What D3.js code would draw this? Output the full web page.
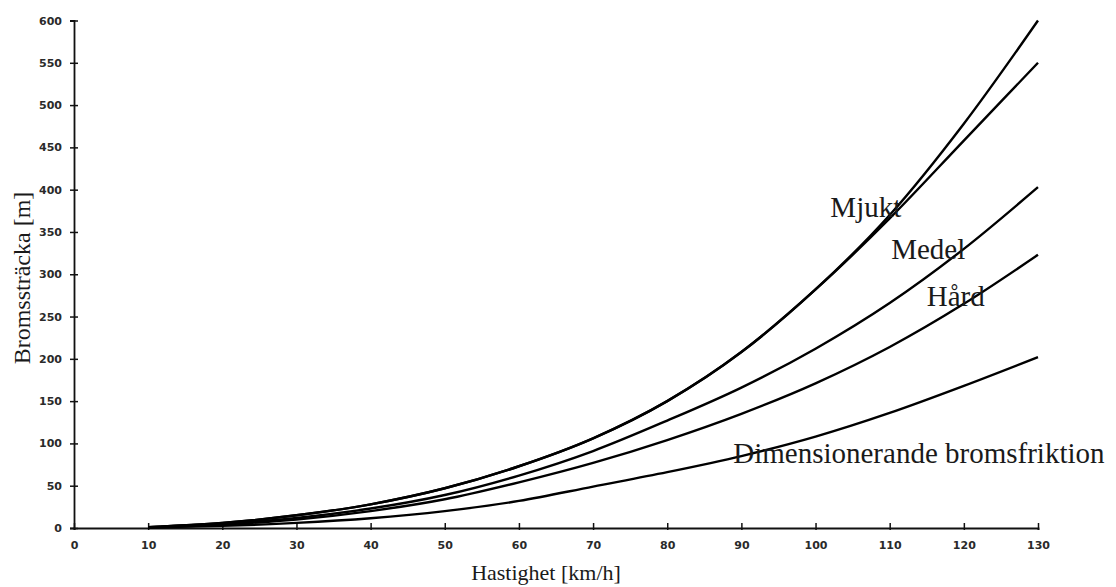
<!DOCTYPE html>
<html>
<head>
<meta charset="utf-8">
<script src="https://cdn.jsdelivr.net/npm/d3@7"></script>
<style>
  html, body { margin: 0; padding: 0; background: #fff; }
  svg { display: block; }
  .tick text { font-family: "DejaVu Sans", Verdana, sans-serif; font-weight: bold; font-size: 11px; fill: #2a2a2a; }
  .serif { font-family: "Liberation Serif", "Times New Roman", serif; fill: #1a1a1a; }
</style>
</head>
<body>
<svg id="chart" width="1116" height="587"></svg>
<script>
// Braking distance [m] by speed [km/h] for different brake conditions
const speeds = [10, 20, 30, 40, 50, 60, 70, 80, 90, 100, 110, 120, 130];
const mjukt  = [1, 6, 15, 28, 47, 73, 106, 150, 208, 282, 370, 478, 600];
const mjukt2 = [1, 6, 15, 28, 47, 73, 106, 150, 208, 282, 366, 458, 550];
const medel  = [1, 5, 12, 23, 39, 62, 91, 127, 166, 212, 266, 330, 403];
const hard   = [0.5, 4, 10, 20, 34, 54, 77, 104, 135, 171, 214, 265, 323];
const dim    = [0.5, 2.5, 6, 11.5, 20, 32, 49, 66, 85, 108, 136, 168, 202];

const xTicks = [0, 10, 20, 30, 40, 50, 60, 70, 80, 90, 100, 110, 120, 130];
const yTicks = [0, 50, 100, 150, 200, 250, 300, 350, 400, 450, 500, 550, 600];

// Curve labels: text, speed and distance at the start of the baseline
const labelNames  = ["Mjukt", "Medel", "Hård", "Dimensionerande bromsfriktion"];
const labelSpeeds = [102, 110.2, 115, 88.9];
const labelDists  = [368, 318, 263, 77];

const svg = d3.select("#chart");

const x = d3.scaleLinear().domain([0, 130]).range([74, 1038]);
const y = d3.scaleLinear().domain([0, 600]).range([528, 20.5]);

// Axes
const xAxis = d3.axisBottom(x).tickValues(xTicks).tickSize(2).tickPadding(11);
const gx = svg.append("g").attr("transform", `translate(0,${y(0)})`).call(xAxis);
gx.select(".domain").attr("stroke", "#111").attr("stroke-width", 1.8);
gx.selectAll(".tick line").attr("y1", -5).attr("y2", 2).attr("stroke", "#111").attr("stroke-width", 1.5);

const yAxis = d3.axisLeft(y).tickValues(yTicks).tickSize(4).tickPadding(8);
const gy = svg.append("g").attr("transform", `translate(${x(0)},0)`).call(yAxis);
gy.select(".domain").attr("stroke", "#111").attr("stroke-width", 1.8);
gy.selectAll(".tick line").attr("x1", -4).attr("x2", 4).attr("stroke", "#111").attr("stroke-width", 1.5);

// Curves
const line = d3.line()
  .x((d, i) => x(speeds[i]))
  .y(d => y(d))
  .curve(d3.curveMonotoneX);

[mjukt, mjukt2, medel, hard, dim].forEach(series => {
  svg.append("path")
    .attr("d", line(series))
    .attr("fill", "none")
    .attr("stroke", "#000")
    .attr("stroke-width", 2.4);
});

// Curve labels
labelNames.forEach((name, i) => {
  svg.append("text")
    .attr("class", "serif")
    .attr("x", x(labelSpeeds[i]))
    .attr("y", y(labelDists[i]))
    .attr("font-size", 29)
    .text(name);
});

// Axis titles
svg.append("text")
  .attr("class", "serif")
  .attr("x", 546)
  .attr("y", 580)
  .attr("text-anchor", "middle")
  .attr("font-size", 22)
  .text("Hastighet [km/h]");

svg.append("text")
  .attr("class", "serif")
  .attr("transform", "translate(30,278) rotate(-90)")
  .attr("text-anchor", "middle")
  .attr("font-size", 24)
  .text("Bromssträcka [m]");
</script>
</body>
</html>
